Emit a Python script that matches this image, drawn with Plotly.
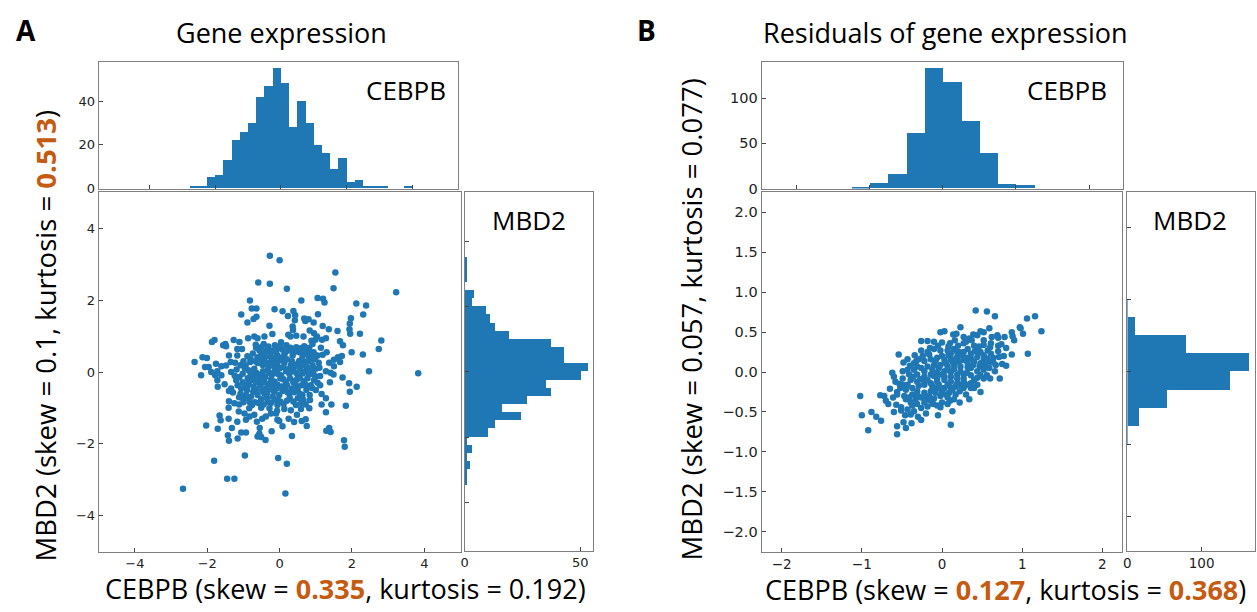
import plotly.graph_objects as go

# ---------------- data ----------------
# Panel A: gene expression (CEBPB on x, MBD2 on y)
expr_points = [
    (-0.27,3.24),(0.0,3.11),(1.54,2.77),(-0.59,2.49),(-0.27,2.46),
    (0.20,2.32),(1.49,2.33),(3.22,2.22),(-0.82,1.99),(0.60,1.99),(1.05,2.06),(1.20,2.04),(1.24,1.94),(2.12,1.91),(2.39,1.85),
    (-0.77,1.77),(-0.64,1.77),(-0.14,1.75),(-1.06,1.60),(0.08,1.69),(0.38,1.70),(0.23,1.56),(0.43,1.58),(1.06,1.61),(0.68,1.49),
    (0.80,1.47),(1.97,1.50),(2.31,1.60),(-0.64,1.54),(-0.72,1.48),(-0.89,1.38),(0.42,1.44),(0.36,1.27),(0.71,1.42),(0.94,1.38),(1.94,1.35),
    (-0.28,1.29),(1.19,1.28),(1.36,1.19),(1.60,1.14),(1.93,1.19),(1.95,1.07),(2.22,1.07),(0.37,1.17),(0.83,1.16),(-0.20,1.06),
    (-0.42,0.99),(0.24,1.04),(0.30,0.99),(0.46,1.01),(0.66,0.99),(0.95,1.08),(1.03,0.99),(1.17,0.90),(1.28,0.94),(0.99,0.90),
    (0.88,0.87),(-1.80,0.89),(-1.87,0.84),(-1.27,0.89),(-1.11,0.84),(-0.87,0.94),(-0.70,0.99),(-0.61,0.94),(2.81,0.88),(2.74,0.64),
    (1.67,0.86),(1.75,0.75),(-1.50,0.78),(-1.56,0.75),(-1.48,0.72),(-1.17,0.64),(-1.04,0.64),
    (-0.66,0.76),(-0.44,0.78),(-0.31,0.71),(-0.13,0.75),(0.04,0.83),(0.19,0.75),(0.46,0.69),(0.68,0.72),(0.82,0.68),(0.91,0.78),
    (1.14,0.68),(1.30,0.55),(1.72,0.45),(1.99,0.55),(2.30,0.49),(-2.13,0.41),(-2.01,0.39),(-2.35,0.28),(-1.40,0.46),(-1.17,0.46),
    (-0.89,0.44),(-0.74,0.52),(-0.51,0.46),(-0.40,0.41),(-0.24,0.41),(-0.06,0.46),(0.13,0.48),(0.40,0.55),(0.68,0.50),(0.82,0.41),
    (1.05,0.46),(1.19,0.48),(1.61,0.41),(1.50,0.34),(1.67,0.28),(1.37,0.26),(1.50,0.16),(-1.76,0.23),(-1.61,0.16),(-1.48,0.18),
    (-1.35,0.28),(-1.23,0.26),(-1.08,0.19),(-0.94,0.18),(-0.81,0.28),(-0.61,0.25),(-0.47,0.20),(-0.28,0.26),(-0.06,0.18),(0.13,0.26),
    (0.31,0.20),(0.54,0.31),(0.68,0.28),(0.91,0.18),(1.08,0.26),(-2.06,0.14),(-1.96,0.14),(-2.17,-0.09),
    (-1.89,0.00),(-1.72,0.02),(-1.61,-0.09),(-1.78,-0.09),(-1.34,0.00),(-1.19,0.07),(-1.11,-0.14),(-0.88,-0.17),(-0.65,-0.02),
    (-0.51,-0.09),(-0.33,0.05),(-0.15,0.00),(0.04,-0.09),(0.27,-0.05),(0.50,-0.09),(0.72,0.02),(0.94,-0.07),(1.12,-0.11),(1.28,0.02),
    (1.41,-0.02),(1.49,-0.07),(1.74,-0.15),(2.47,0.02),(-1.72,-0.23),(-1.71,-0.41),(-1.52,-0.34),(-1.34,-0.46),(-1.16,-0.37),
    (-1.02,-0.28),(-0.88,-0.37),(-0.65,-0.28),(-0.42,-0.28),(-0.24,-0.21),(-0.06,-0.35),(0.17,-0.28),(0.45,-0.23),(0.68,-0.25),
    (0.86,-0.37),(1.05,-0.30),(1.12,-0.37),(1.39,-0.28),(1.92,-0.31),(2.13,-0.41),
    (-1.40,-0.53),(-1.29,-0.57),(-1.08,-0.60),(-0.90,-0.50),(-0.73,-0.55),(-0.61,-0.64),(-0.42,-0.60),(-0.28,-0.44),(-0.15,-0.55),
    (0.08,-0.53),(0.27,-0.60),(0.50,-0.50),(0.63,-0.64),(0.83,-0.64),(1.16,-0.61),(1.28,-0.73),(1.94,-0.55),(-1.40,-0.81),
    (-1.25,-0.87),(-1.02,-0.73),(-0.83,-0.83),(-0.68,-0.84),(-0.51,-0.76),(-0.33,-0.83),(-0.06,-0.78),(0.11,-0.89),(0.28,-0.72),
    (0.45,-0.92),(0.72,-0.90),(1.16,-0.90),(1.43,-0.90),(1.83,-0.94),
    (-1.41,-0.99),(-1.12,-0.90),(-0.84,-1.01),(-0.51,-0.99),(-0.28,-1.01),(-0.07,-1.08),(0.13,-1.03),(0.59,-1.03),(0.82,-1.01),
    (1.28,-1.12),(-1.13,-1.10),(-1.66,-1.21),(-1.63,-1.34),(-1.41,-1.30),(-1.17,-1.38),(-0.93,-1.33),(-0.63,-1.38),(-0.48,-1.30),
    (-0.38,-1.24),(-0.24,-1.15),(-0.10,-1.15),(-0.06,-1.33),(-0.01,-1.36),(0.25,-1.30),(0.40,-1.39),(0.61,-1.36),(0.72,-1.31),
    (-2.03,-1.49),(-1.71,-1.58),
    (-1.32,-1.56),(-1.06,-1.68),(-0.93,-1.68),(-0.55,-1.56),(-0.56,-1.72),(-0.51,-1.81),(-0.61,-1.79),(-0.22,-1.65),(0.08,-1.51),
    (0.34,-1.78),(0.75,-1.50),(1.29,-1.63),(1.41,-1.67),(1.37,-1.56),(-1.43,-1.76),(-1.40,-1.91),(-1.16,-1.85),(-0.39,-1.89),(1.78,-1.90),
    (-0.56,0.60),(-0.40,0.55),(-0.19,0.60),(-0.07,0.64),(0.08,0.62),(0.24,0.60),(0.36,0.46),(0.54,0.55),(0.63,0.41),(0.79,0.55),
    (0.94,0.55),(-0.61,0.41),(-0.44,0.32),(-0.31,0.14),(-0.17,0.29),(-0.01,0.32),(0.11,0.14),(0.27,0.09),(0.40,0.14),(0.57,0.09),
    (0.75,0.14),(0.88,0.05),(1.00,0.09),(-0.70,0.09),(-0.56,-0.18),(-0.40,-0.14),(-0.22,-0.09),(-0.06,-0.05),(0.11,-0.20),(0.29,-0.18),
    (0.45,-0.37),(0.61,-0.37),(0.77,-0.17),(0.95,-0.23),(-0.72,-0.41),(-0.53,-0.37),(-0.38,-0.46),(-0.19,-0.37),(-0.01,-0.64),(0.15,-0.46),
    (0.33,-0.46),(0.50,-0.73),(0.66,-0.78),(0.84,-0.78),(1.00,-0.50),(-0.79,-0.69),(-0.93,-0.64),(-1.06,-0.46),(-1.20,-0.23),(-1.02,-0.05),
    (-0.86,0.05),(-0.74,-0.14),(-0.35,-0.73),(-0.19,-0.69),(-0.06,-0.92),(0.31,-1.06),(0.48,-1.19),(-0.70,-1.19),(-0.83,-1.24),(-0.97,-1.15),
    (-0.65,0.68),(-0.50,0.70),(-0.35,0.62),(-0.25,0.52),(-0.10,0.55),(0.02,0.72),(0.16,0.55),(0.30,0.68),(0.46,0.60),(0.58,0.66),
    (0.72,0.60),(0.86,0.46),(0.98,0.38),(-0.66,0.30),(-0.52,0.36),(-0.36,0.24),(-0.20,0.18),(-0.10,0.38),(0.05,0.40),(0.20,0.36),
    (0.34,0.30),(0.48,0.22),(0.62,0.20),(0.78,0.30),(0.92,0.34),(1.10,0.12),(-0.60,-0.06),(-0.46,0.02),(-0.30,-0.02),(-0.12,0.08),
    (0.00,0.10),(0.18,0.02),(0.36,0.02),(0.46,-0.02),(0.64,-0.04),(0.82,-0.06),(1.00,-0.12),(-0.80,-0.05),(-0.70,-0.22),(-0.50,-0.26),
    (-0.32,-0.34),(-0.14,-0.26),(0.02,-0.18),(0.20,-0.36),(0.38,-0.28),(0.56,-0.18),(0.72,-0.36),(0.90,-0.44),(-0.64,-0.48),(-0.48,-0.52),
    (-0.34,-0.58),(-0.22,-0.48),(-0.08,-0.46),(0.05,-0.40),(0.22,-0.56),(0.40,-0.56),(0.56,-0.60),(0.74,-0.50),(-1.12,-0.70),(-1.00,-0.84),
    (-0.88,-0.72),(-0.76,-0.92),(-0.58,-0.86),(-0.44,-0.90),(-0.24,-0.86),(-0.14,-0.78),(0.02,-0.82),(0.20,-0.80),(0.38,-0.82),(0.60,-0.86),
    (-0.96,-0.40),(-0.84,-0.28),(-1.24,-0.10),(-0.96,0.10),(-0.80,0.36),(-1.00,0.30),
    (3.83,-0.03),(1.80,-2.08),(-0.96,-2.32),(-1.81,-2.47),(-0.04,-2.39),(0.20,-2.55),(-1.45,-2.97),(-1.25,-2.97),(-2.67,-3.25),(0.16,-3.38),
]

# Panel B: residuals of gene expression
resid_points = [
    (0.42,0.77),(0.56,0.76),(0.66,0.70),(1.06,0.67),(1.16,0.70),(0.97,0.56),(0.98,0.55),(1.24,0.51),(1.01,0.48),(0.87,0.50),
    (0.88,0.45),(0.69,0.46),(0.70,0.43),(0.59,0.55),(0.48,0.51),(0.52,0.50),(0.39,0.47),(0.34,0.42),(0.23,0.56),(-0.02,0.50),
    (0.03,0.51),(0.14,0.47),(0.18,0.48),(0.27,0.44),(-0.26,0.39),(-0.18,0.39),(-0.10,0.38),(0.00,0.37),(0.10,0.36),(0.16,0.40),
    (0.27,0.36),(0.37,0.40),(0.44,0.46),(0.52,0.40),(0.61,0.36),(0.70,0.33),(0.74,0.35),(0.52,0.34),(0.46,0.32),
    (-0.54,0.22),(-0.43,0.16),(-0.34,0.21),(-0.26,0.27),(-0.18,0.25),(-0.10,0.29),(-0.02,0.27),(0.07,0.27),(0.15,0.29),(0.21,0.25),
    (0.32,0.29),(0.41,0.26),(0.48,0.25),(0.57,0.27),(0.64,0.18),(0.71,0.19),(0.77,0.20),(0.87,0.22),(1.07,0.23),(-0.35,0.11),
    (-0.29,0.16),(-0.22,0.14),(-0.14,0.16),(-0.06,0.18),(0.03,0.15),(0.11,0.16),(0.19,0.19),(0.27,0.15),(0.36,0.17),(0.44,0.19),
    (0.52,0.15),(0.60,0.13),(0.67,0.09),(0.75,0.10),(-0.62,-0.01),(-0.49,0.01),(-0.43,0.03),(-0.35,0.03),(-0.26,0.05),(-0.18,0.07),
    (-0.10,0.09),(-0.02,0.09),(0.07,0.07),(0.15,0.09),(0.23,0.07),(0.32,0.06),(0.39,0.09),(0.47,0.07),(0.59,0.05),(0.66,0.01),(0.72,-0.08),
    (-0.58,-0.12),(-0.53,-0.15),(-0.49,-0.16),(-0.39,-0.10),(-0.31,-0.03),(-0.22,-0.06),(-0.14,-0.03),(-0.06,-0.01),(0.03,0.01),
    (0.11,0.00),(0.19,-0.03),(0.27,-0.03),(0.36,-0.04),(0.44,-0.07),(0.52,-0.08),(0.60,-0.08),(-0.65,-0.21),(-0.56,-0.25),(-0.45,-0.22),
    (-0.37,-0.20),(-0.29,-0.17),(-0.22,-0.16),(-0.14,-0.14),(-0.06,-0.12),(0.03,-0.10),(0.11,-0.12),(0.19,-0.14),(0.27,-0.12),
    (0.36,-0.14),(0.44,-0.16),(0.48,-0.25),(0.22,-0.24),(0.11,-0.20),(0.03,-0.20),(-0.06,-0.20),(-0.14,-0.24),(-0.22,-0.26),
    (-0.31,-0.24),(-0.37,-0.28),
    (-1.02,-0.30),(-0.77,-0.29),(-0.72,-0.30),(-0.61,-0.32),(-0.56,-0.28),(-0.47,-0.30),(-0.41,-0.32),(-0.33,-0.34),(-0.26,-0.32),
    (-0.18,-0.34),(-0.10,-0.33),(-0.02,-0.30),(0.07,-0.32),(0.15,-0.34),(0.34,-0.34),(-0.67,-0.40),(-0.57,-0.41),(-0.51,-0.44),
    (-0.43,-0.47),(-0.35,-0.49),(-0.26,-0.45),(-0.18,-0.43),(-0.11,-0.40),(-0.06,-0.42),(0.00,-0.38),(0.07,-0.40),(0.13,-0.49),
    (0.22,-0.38),(-1.00,-0.54),(-0.88,-0.50),(-0.82,-0.56),(-0.76,-0.61),(-0.51,-0.48),(-0.46,-0.54),(-0.39,-0.53),(-0.26,-0.60),
    (-0.05,-0.54),(-0.92,-0.73),(-0.56,-0.68),(-0.45,-0.70),(-0.48,-0.63),(-0.38,-0.64),(-0.56,-0.78),(0.11,-0.66),
    (-0.22,0.01),(-0.12,0.03),(-0.04,0.05),(0.05,0.11),(0.13,0.13),(0.21,0.13),(0.32,0.11),(-0.06,-0.08),(0.03,-0.06),(0.11,-0.06),
    (0.19,-0.08),(0.27,-0.08),(-0.22,-0.12),(-0.31,-0.12),(-0.12,-0.18),(-0.04,-0.16),(0.07,-0.16),(0.17,-0.18),(-0.16,-0.30),
    (-0.08,-0.26),(0.00,-0.24),(0.09,-0.26),(0.17,-0.28),(0.27,-0.20),(0.36,-0.20),(-0.22,-0.38),(-0.14,-0.36),(-0.31,-0.40),
    (-0.39,-0.38),(-0.43,-0.16),(-0.41,-0.03),(-0.49,-0.08),(-0.31,0.07),(0.19,0.25),(0.11,0.23),(0.27,0.25),(0.36,0.23),(0.44,0.27),
    (0.52,0.21),(0.61,0.23),(0.36,0.05),(0.44,0.01),(0.52,0.03),(0.54,0.09),
    (-0.40,0.08),(-0.32,0.14),(-0.24,0.20),(-0.16,0.22),(-0.08,0.14),(0.00,0.20),(0.08,0.21),(0.16,0.16),(0.24,0.21),(0.30,0.18),
    (0.40,0.13),(0.48,0.11),(0.56,0.17),(0.64,0.12),(0.70,0.26),(0.60,0.31),(0.40,0.33),(0.30,0.38),(0.20,0.33),(0.08,0.32),
    (-0.05,0.33),(-0.15,0.30),(-0.36,-0.06),(-0.27,-0.09),(-0.18,-0.10),(-0.10,-0.05),(0.00,-0.03),(0.07,0.03),(0.15,0.04),(0.23,0.01),
    (0.31,-0.01),(0.40,-0.10),(0.48,-0.04),(0.56,-0.04),(-0.45,-0.34),(-0.37,-0.42),(-0.30,-0.30),(-0.22,-0.30),(-0.10,-0.22),(-0.02,-0.20),
    (0.05,-0.28),(0.13,-0.22),(0.22,-0.16),(0.31,-0.16),(0.40,-0.20),(0.30,-0.28),(0.10,-0.36),(-0.02,-0.44),(-0.20,-0.52),(-0.30,-0.56),
    (-0.60,-0.50),(-0.70,-0.36),(-0.52,-0.20),(-0.60,-0.06),(-0.48,0.12),(0.80,0.30),(0.90,0.40),(0.78,0.44),(0.62,0.44),(0.80,0.08),
]

# Histograms (bin start, bin width, counts)
expr_cebpb_start, expr_cebpb_width = -2.754, 0.2495
expr_cebpb_counts = [1,1,5,6,13,22,26,30,42,47,55,48,28,40,30,20,16,9,14,3,4,1,1,1,0,0,1]
expr_mbd2_start, expr_mbd2_width = -3.5, 0.25
expr_mbd2_counts = [1,1,2,1,3,1,10,13,24,16,27,37,35,50,53,43,43,37,19,13,11,9,3,4,0,1,1,1]
resid_cebpb_start, resid_cebpb_width = -1.25, 0.25
resid_cebpb_counts = [2,6,16,61,133,118,75,39,5,4]
resid_mbd2_start, resid_mbd2_width = -1.0, 0.25
resid_mbd2_counts = [1,16,54,139,164,80,11,1]

# Ticks
expr_ticks = [-4, -2, 0, 2, 4]
expr_top_count_ticks = [0, 20, 40]
expr_right_count_ticks = [0, 50]
resid_x_ticks = [-2, -1, 0, 1, 2]
resid_y_ticks = [-2.0, -1.5, -1.0, -0.5, 0.0, 0.5, 1.0, 1.5, 2.0]
resid_hist_ticks = [-2, -1, 0, 1, 2]
resid_top_count_ticks = [0, 50, 100]
resid_right_count_ticks = [0, 100]

# Text
title_a = "Gene expression"
title_b = "Residuals of gene expression"
ORANGE = "#C55A11"
xlab_a = f"CEBPB (skew = <b><span style='color:{ORANGE}'>0.335</span></b>, kurtosis = 0.192)"
ylab_a = f"MBD2 (skew = 0.1, kurtosis = <b><span style='color:{ORANGE}'>0.513</span></b>)"
xlab_b = (f"CEBPB (skew = <b><span style='color:{ORANGE}'>0.127</span></b>, "
          f"kurtosis = <b><span style='color:{ORANGE}'>0.368</span></b>)")
ylab_b = "MBD2 (skew = 0.057, kurtosis = 0.077)"

# ---------------- figure ----------------
W, H = 1257, 612
BLUE = "#1f77b4"


def dxp(a, b):
    return [a / W, b / W]


def dyp(top, bottom):
    return [1 - bottom / H, 1 - top / H]


def centers(start, width, counts):
    return [start + width * (i + 0.5) for i in range(len(counts))]


fig = go.Figure()

MSIZE = 6.5
# Panel A
fig.add_trace(go.Scatter(x=[p[0] for p in expr_points], y=[p[1] for p in expr_points], mode="markers",
                         marker=dict(size=MSIZE, color=BLUE), xaxis="x", yaxis="y"))
fig.add_trace(go.Bar(x=centers(expr_cebpb_start, expr_cebpb_width, expr_cebpb_counts), y=expr_cebpb_counts,
                     width=expr_cebpb_width, marker=dict(color=BLUE, line=dict(width=0)), xaxis="x2", yaxis="y2"))
fig.add_trace(go.Bar(y=centers(expr_mbd2_start, expr_mbd2_width, expr_mbd2_counts), x=expr_mbd2_counts,
                     width=expr_mbd2_width, orientation="h", marker=dict(color=BLUE, line=dict(width=0)),
                     xaxis="x3", yaxis="y3"))
# Panel B
fig.add_trace(go.Scatter(x=[p[0] for p in resid_points], y=[p[1] for p in resid_points], mode="markers",
                         marker=dict(size=MSIZE, color=BLUE), xaxis="x4", yaxis="y4"))
fig.add_trace(go.Bar(x=centers(resid_cebpb_start, resid_cebpb_width, resid_cebpb_counts), y=resid_cebpb_counts,
                     width=resid_cebpb_width, marker=dict(color=BLUE, line=dict(width=0)), xaxis="x5", yaxis="y5"))
fig.add_trace(go.Bar(y=centers(resid_mbd2_start, resid_mbd2_width, resid_mbd2_counts), x=resid_mbd2_counts,
                     width=resid_mbd2_width, orientation="h", marker=dict(color=BLUE, line=dict(width=0)),
                     xaxis="x6", yaxis="y6"))

TICKFONT_A = dict(family="DejaVu Sans", size=13, color="#222")
TICKFONT_B = dict(family="DejaVu Sans", size=14.5, color="#222")
TICKFONT_BX = dict(family="DejaVu Sans", size=13.5, color="#222")


def ax(**kw):
    base = dict(showline=True, mirror=True, linecolor="#808080", linewidth=1, ticks="inside", ticklen=4,
                tickcolor="#444", showgrid=False, zeroline=False, fixedrange=True)
    base.update(kw)
    return base


fig.update_layout(
    width=W, height=H, margin=dict(l=0, r=0, t=0, b=0), paper_bgcolor="white", plot_bgcolor="white",
    showlegend=False, bargap=0, barmode="overlay",
    # Panel A scatter
    xaxis=ax(domain=dxp(95, 458), range=[-5, 5], anchor="y", tickvals=expr_ticks, tickfont=TICKFONT_A),
    yaxis=ax(domain=dyp(195, 559), range=[-5, 5], anchor="x", tickvals=expr_ticks, tickfont=TICKFONT_A),
    # Panel A top hist
    xaxis2=ax(domain=dxp(95, 455), range=[-5.53, 5.36], anchor="y2", tickvals=expr_ticks, showticklabels=False),
    yaxis2=ax(domain=dyp(63, 191), range=[0, 57.8], anchor="x2", tickvals=expr_top_count_ticks, tickfont=TICKFONT_A),
    # Panel A right hist
    xaxis3=ax(domain=dxp(462, 591), range=[0, 55.6], anchor="y3", tickvals=expr_right_count_ticks, tickfont=TICKFONT_A),
    yaxis3=ax(domain=dyp(195, 558), range=[-5.49, 5.51], anchor="x3", tickvals=expr_ticks, showticklabels=False),
    # Panel B scatter
    xaxis4=ax(domain=dxp(760, 1122), range=[-2.25, 2.25], anchor="y4", tickvals=resid_x_ticks, tickfont=TICKFONT_BX),
    yaxis4=ax(domain=dyp(195, 559), range=[-2.25, 2.25], anchor="x4", tickvals=resid_y_ticks, tickformat=".1f",
              tickfont=TICKFONT_B),
    # Panel B top hist
    xaxis5=ax(domain=dxp(760, 1123), range=[-2.48, 2.47], anchor="y5", tickvals=resid_hist_ticks, showticklabels=False),
    yaxis5=ax(domain=dyp(63, 191), range=[0, 140], anchor="x5", tickvals=resid_top_count_ticks, tickfont=TICKFONT_B),
    # Panel B right hist
    xaxis6=ax(domain=dxp(1127, 1255), range=[0, 172], anchor="y6", tickvals=resid_right_count_ticks, tickfont=TICKFONT_BX),
    yaxis6=ax(domain=dyp(195, 558), range=[-2.47, 2.48], anchor="x6", tickvals=resid_hist_ticks, showticklabels=False),
)

LABEL_FONT = "Open Sans"


def txt(text, px, py, size, angle=0, bold=False, color="black", yanchor="middle", yshift=0):
    fig.add_annotation(text=(f"<b>{text}</b>" if bold else text), x=px / W, y=1 - py / H, xref="paper", yref="paper",
                       showarrow=False, textangle=angle, xanchor="center", yanchor=yanchor, yshift=yshift,
                       font=dict(family=LABEL_FONT, size=size, color=color))


txt("A", 22, 30, 28, bold=True)
txt("B", 645, 30, 28, bold=True)
txt(title_a, 278, 33, 27)
txt(title_b, 945, 33, 27)
txt("CEBPB", 403, 91, 26)
txt("MBD2", 527, 223, 26)
txt("CEBPB", 1066, 91, 26)
txt("MBD2", 1190, 223, 26)
txt(xlab_a, 343, 612, 27, yanchor="bottom", yshift=-5)
txt(xlab_b, 1005, 612, 27, yanchor="bottom", yshift=-6)
txt(ylab_a, 42, 340, 27.5, angle=-90)
txt(ylab_b, 690, 324, 27.5, angle=-90)

fig.write_html("out.html")
